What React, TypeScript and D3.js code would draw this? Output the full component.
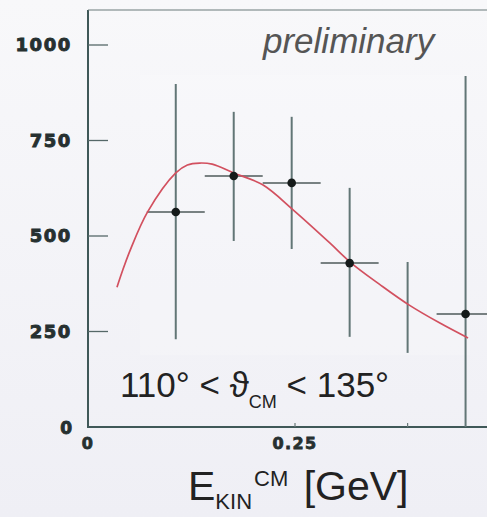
import React from "react";
import * as d3 from "d3";

// Kinematic bins (E_kin in GeV) and the measured cross-section values
const binCenters = [0.106, 0.176, 0.246, 0.316, 0.386, 0.456];
const binValues: (number | null)[] = [563, 657, 639, 429, null, 296];
const errUpper = [898, 825, 812, 626, 432, 919];
const errLower = [230, 487, 466, 236, 194, 0];
const binHalfWidth = 0.035;

// Model curve
const curveX = [0.035, 0.042, 0.051, 0.072, 0.106, 0.12, 0.135, 0.15, 0.176, 0.211, 0.248, 0.292, 0.318, 0.353, 0.388, 0.425, 0.459];
const curveY = [366, 411, 463, 563, 665, 686, 691, 688, 665, 634, 568, 482, 429, 372, 319, 272, 233];

// Axis ticks
const yTicks = [250, 500, 750, 1000];
const yTickLabels = ["250", "500", "750", "1000"];
const xLabelTicks = [0, 0.25];
const xLabelText = ["0", "0.25"];
const xMinorTicks = [0.25, 0.386];

const W = 487;
const H = 517;

export default function App() {
  const x = d3.scaleLinear().domain([0, 0.5]).range([88, 502]);
  const y = d3.scaleLinear().domain([0, 1000]).range([427, 45]);

  const line = d3
    .line<[number, number]>()
    .x((d) => x(d[0]))
    .y((d) => y(d[1]))
    .curve(d3.curveCatmullRom.alpha(0.5));
  const curvePath = line(curveX.map((v, i) => [v, curveY[i]] as [number, number])) || "";

  const axisColor = "#3f5858";
  const tickFont = "'DejaVu Sans', sans-serif";
  const textFont = "'Liberation Sans', Arial, 'DejaVu Sans', sans-serif";
  const tickInk = "#263030";

  return (
    <svg
      width={W}
      height={H}
      viewBox={`0 0 ${W} ${H}`}
      style={{ position: "absolute", left: 0, top: 0, display: "block" }}
    >
      <defs>
        <linearGradient id="bg" x1="0" y1="0" x2="0" y2="1">
          <stop offset="0" stopColor="#f8f8fa" />
          <stop offset="1" stopColor="#efeff5" />
        </linearGradient>
        <clipPath id="frame">
          <rect x={0} y={0} width={W} height={H} />
        </clipPath>
      </defs>
      <rect x={0} y={0} width={W} height={H} fill="url(#bg)" />
      <rect x={140} y={75} width={330} height={280} fill="#ffffff" opacity={0.15} />

      {/* frame: left axis, top border, bottom axis */}
      <line x1={x(0)} x2={x(0)} y1={10} y2={y(0) + 1} stroke={axisColor} strokeWidth={2} />
      <line x1={x(0)} x2={W} y1={10} y2={10} stroke="#6a7a7a" strokeWidth={1.2} />
      <line x1={x(0)} x2={W} y1={y(0)} y2={y(0)} stroke={axisColor} strokeWidth={2} />

      {/* y ticks and labels */}
      {yTicks.map((t, i) => (
        <g key={`yt${t}`}>
          <line x1={x(0)} x2={x(0) + 20} y1={y(t)} y2={y(t)} stroke="#556868" strokeWidth={1.3} />
          <text
            x={72}
            y={y(t)}
            dy="0.36em"
            textAnchor="end"
            fontFamily={tickFont}
            fontWeight="bold"
            fontSize={18}
            letterSpacing={1.6}
            fill={tickInk}
            stroke={tickInk}
            strokeWidth={0.9}
          >
            {yTickLabels[i]}
          </text>
        </g>
      ))}
      <text
        x={72}
        y={y(0) + 1}
        dy="0.36em"
        textAnchor="end"
        fontFamily={tickFont}
        fontWeight="bold"
        fontSize={17}
        fill={tickInk}
        stroke={tickInk}
        strokeWidth={0.9}
      >
        0
      </text>

      {/* x ticks and labels */}
      {xMinorTicks.map((t) => (
        <line key={`xm${t}`} x1={x(t)} x2={x(t)} y1={y(0)} y2={y(0) - 4} stroke="#6a7a7a" strokeWidth={1.2} />
      ))}
      {xLabelTicks.map((t, i) => (
        <text
          key={`xl${t}`}
          x={x(t)}
          y={449}
          textAnchor="middle"
          fontFamily={tickFont}
          fontWeight="bold"
          fontSize={16}
          letterSpacing={1.4}
          fill={tickInk}
          stroke={tickInk}
          strokeWidth={0.8}
        >
          {xLabelText[i]}
        </text>
      ))}

      <g clipPath="url(#frame)">
        {/* error bars */}
        {binCenters.map((c, i) => (
          <line
            key={`ev${i}`}
            x1={x(c)}
            x2={x(c)}
            y1={y(errUpper[i])}
            y2={y(errLower[i])}
            stroke="#627676"
            strokeWidth={2}
          />
        ))}
        {binCenters.map((c, i) =>
          binValues[i] === null ? null : (
            <line
              key={`eh${i}`}
              x1={x(c - binHalfWidth)}
              x2={x(c + binHalfWidth)}
              y1={y(binValues[i] as number)}
              y2={y(binValues[i] as number)}
              stroke="#4e5a5a"
              strokeWidth={1.5}
            />
          )
        )}

        {/* model curve */}
        <path d={curvePath} fill="none" stroke="#d2505f" strokeWidth={1.7} />

        {/* data points */}
        {binCenters.map((c, i) =>
          binValues[i] === null ? null : (
            <circle key={`pt${i}`} cx={x(c)} cy={y(binValues[i] as number)} r={4.3} fill="#151a1a" />
          )
        )}
      </g>

      {/* annotations */}
      <text x={263} y={53} fontFamily={textFont} fontStyle="italic" fontSize={35} fill="#555555">
        preliminary
      </text>
      <text x={120} y={397} fontFamily={textFont} fontSize={35} fill="#222222">
        110° &lt; ϑ
        <tspan fontSize={18} dy={11}>
          CM
        </tspan>
        <tspan dy={-11}> &lt; 135°</tspan>
      </text>

      {/* axis title */}
      <text x={188} y={500} fontFamily={textFont} fontSize={41} fill="#222222">
        E
        <tspan fontSize={22} dy={9}>
          KIN
        </tspan>
        <tspan fontSize={22} dy={-23} dx={2}>
          CM
        </tspan>
        <tspan dy={14} dx={4}>
          {" [GeV]"}
        </tspan>
      </text>
    </svg>
  );
}
